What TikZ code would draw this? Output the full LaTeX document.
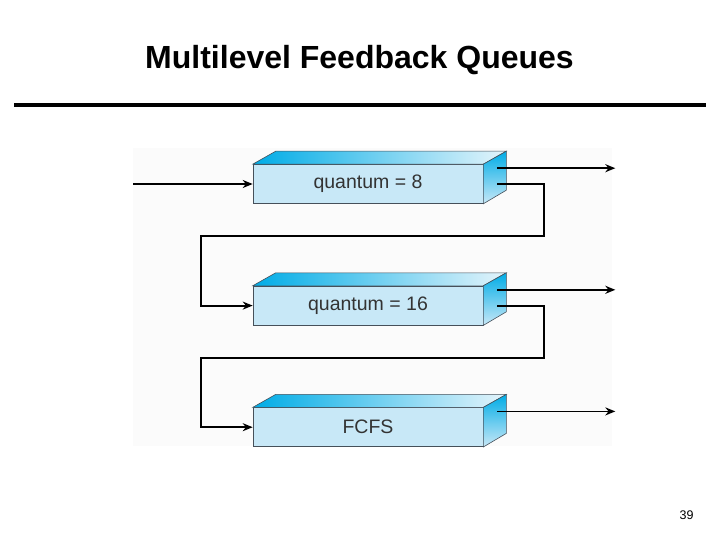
\documentclass[tikz,border=0pt]{standalone}
\usepackage{fontspec}
\setmainfont{Liberation Sans}
\usetikzlibrary{arrows.meta, positioning, calc}

\definecolor{qfront}{RGB}{200,232,247}
\definecolor{qcyan}{RGB}{0,172,230}
\definecolor{qpale}{RGB}{228,244,251}
\definecolor{qedge}{RGB}{70,80,90}

\tikzset{
  queuebox/.style={draw=qedge, line width=0.6pt, fill=qfront, minimum width=230pt,
    minimum height=39pt, inner sep=0pt, text=black!80, font=\fontsize{19.5}{19.5}\selectfont},
  flow/.style={line width=1.8pt, -{Stealth[length=10pt, width=8pt]}},
}

\begin{document}
\begin{tikzpicture}[x=1pt, y=-1pt]
      \fill[white] (0,0) rectangle (720,540);
      \useasboundingbox (0,0) rectangle (720,540);
      \fill[black!1.5] (133,148) rectangle (612,446);

      \node[font=\fontsize{32}{32}\selectfont\bfseries, anchor=base] (title) at (359.5,69) {Multilevel Feedback Queues};
      \draw[line width=4pt] (14,105) -- (706,105);

      \node[queuebox] (q1) at (368,184) {quantum = 8};
      \node[queuebox, below=82pt of q1] (q2) {quantum = 16};
      \node[queuebox, below=82pt of q2] (q3) {FCFS};

      % top and right faces
      \foreach \q in {q1,q2,q3} {
        \shadedraw[draw=qedge, line width=0.6pt, left color=qcyan, right color=qpale]
          (\q.north west) -- ++(23,-13) -- ($(\q.north east)+(23,-13)$) -- (\q.north east) -- cycle;
        \shadedraw[draw=qedge, line width=0.6pt, top color=qcyan, bottom color=qfront]
          (\q.north east) -- ++(23,-13) -- ++(0,39) -- (\q.south east) -- cycle;
      }

      \coordinate (in) at (133,184);
      \coordinate (out1) at ($(q1.north east)+(132,4)$);
      \coordinate (out2) at ($(q2.north east)+(132,4)$);
      \coordinate (out3) at ($(q3.north east)+(132,4)$);
      \coordinate (turn1) at (544,236);
      \coordinate (back1) at (201,236);
      \coordinate (turn2) at (544,358);
      \coordinate (back2) at (201,358);

      \draw[flow] (in) -- (q1.west);
      \draw[flow] ($(q1.north east)+(14,4)$) -- (out1);
      \draw[flow] ($(q2.north east)+(14,4)$) -- (out2);
      \draw[flow] ($(q3.north east)+(14,4)$) -- (out3);

      \draw[flow] ($(q1.east)+(14,0)$) -| (turn1) -- (back1) |- (q2.west);
      \draw[flow] ($(q2.east)+(14,0)$) -| (turn2) -- (back2) |- (q3.west);

      \node[font=\fontsize{12.5}{12.5}\selectfont] (page) at (686.5,515) {39};
    \end{tikzpicture}
\end{document}
